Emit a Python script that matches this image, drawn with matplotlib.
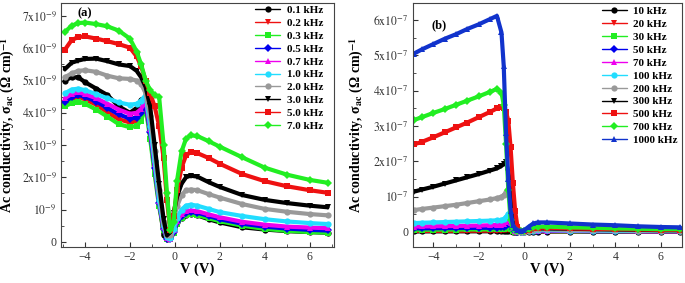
import numpy as np
import matplotlib
matplotlib.use('Agg')
import matplotlib.pyplot as plt
from matplotlib.ticker import MultipleLocator, FuncFormatter

plt.rcParams['font.family'] = ['Liberation Serif', 'DejaVu Serif']
plt.rcParams['mathtext.fontset'] = 'stix'

# ---- panel (a): low frequencies, values in units of 1e-9 (Ohm cm)^-1
va = [-4.9, -4.6, -4.3, -4.0, -3.5, -3.0, -2.5, -2.0, -1.7, -1.5, -1.3, -1.1, -0.9, -0.7,
      -0.5, -0.35, -0.2, -0.05, 0.1, 0.3, 0.5, 0.7, 1.0, 1.5, 2.0, 3.0, 4.0, 5.0, 6.0, 6.8]

labels_a = ['0.1 kHz', '0.2 kHz', '0.3 kHz', '0.5 kHz', '0.7 kHz',
            '1.0 kHz', '2.0 kHz', '3.0 kHz', '5.0 kHz', '7.0 kHz']

a_01 = [5.0, 5.1, 5.1, 4.95, 4.75, 4.55, 4.2, 4.0, 4.15, 4.4, 4.5, 3.5, 2.5, 1.3,
        0.2, 0.1, 0.15, 0.4, 0.6, 0.75, 0.82, 0.85, 0.82, 0.7, 0.6, 0.45, 0.38, 0.33, 0.3, 0.28]
a_02 = [4.3, 4.42, 4.48, 4.42, 4.25, 4.02, 3.8, 3.7, 3.73, 3.88, 4.25, 3.3, 2.2, 1.15,
        0.38, 0.1, 0.08, 0.28, 0.58, 0.78, 0.87, 0.88, 0.86, 0.76, 0.67, 0.52, 0.43, 0.37, 0.33, 0.31]
a_03 = [4.2, 4.3, 4.35, 4.28, 4.1, 3.88, 3.65, 3.55, 3.6, 3.75, 4.2, 3.2, 2.1, 1.1,
        0.35, 0.1, 0.08, 0.27, 0.55, 0.75, 0.84, 0.85, 0.83, 0.73, 0.64, 0.5, 0.4, 0.34, 0.3, 0.28]
a_05 = [4.35, 4.48, 4.55, 4.5, 4.35, 4.15, 3.95, 3.82, 3.85, 3.98, 4.3, 3.4, 2.3, 1.2,
        0.4, 0.1, 0.08, 0.3, 0.6, 0.8, 0.9, 0.92, 0.9, 0.8, 0.7, 0.56, 0.47, 0.41, 0.37, 0.35]
a_07 = [4.45, 4.58, 4.63, 4.58, 4.45, 4.28, 4.1, 3.97, 4.0, 4.12, 4.4, 3.5, 2.4, 1.25,
        0.45, 0.12, 0.1, 0.35, 0.65, 0.85, 0.95, 0.97, 0.95, 0.85, 0.76, 0.62, 0.53, 0.47, 0.44, 0.42]
a_10 = [4.6, 4.72, 4.75, 4.7, 4.58, 4.45, 4.32, 4.25, 4.28, 4.38, 4.55, 3.6, 2.5, 1.3,
        0.5, 0.15, 0.12, 0.4, 0.75, 1.0, 1.12, 1.15, 1.12, 1.02, 0.92, 0.8, 0.7, 0.63, 0.58, 0.55]
a_20 = [5.1, 5.22, 5.3, 5.32, 5.27, 5.15, 5.07, 5.05, 5.0, 4.9, 4.6, 3.9, 2.8, 1.6,
        0.6, 0.2, 0.2, 0.7, 1.1, 1.45, 1.6, 1.62, 1.6, 1.48, 1.37, 1.17, 1.02, 0.93, 0.86, 0.82]
a_30 = [5.35, 5.55, 5.62, 5.67, 5.68, 5.6, 5.5, 5.45, 5.3, 5.1, 4.8, 4.2, 3.0, 1.8,
        0.7, 0.2, 0.3, 0.9, 1.4, 1.8, 2.0, 2.05, 2.02, 1.85, 1.7, 1.45, 1.3, 1.2, 1.12, 1.07]
a_50 = [5.95, 6.25, 6.35, 6.37, 6.3, 6.22, 6.13, 6.02, 5.75, 5.45, 5.0, 4.6, 4.2, 3.6,
        2.6, 1.3, 0.35, 0.8, 1.6, 2.3, 2.68, 2.78, 2.75, 2.6, 2.42, 2.1, 1.88, 1.72, 1.6, 1.52]
a_70 = [6.5, 6.7, 6.78, 6.8, 6.75, 6.68, 6.55, 6.3, 5.9, 5.5, 5.0, 4.7, 4.55, 4.5,
        3.0, 1.5, 0.35, 0.6, 1.9, 2.8, 3.2, 3.3, 3.28, 3.12, 2.95, 2.62, 2.3, 2.08, 1.92, 1.83]

series_a = [a_01, a_02, a_03, a_05, a_07, a_10, a_20, a_30, a_50, a_70]

# ---- panel (b): high frequencies, values in units of 1e-7 (Ohm cm)^-1
vb = [-4.85, -4.5, -4.0, -3.5, -3.0, -2.5, -2.0, -1.5, -1.2, -1.0, -0.9, -0.8, -0.7, -0.6,
      -0.5, -0.4, -0.3, -0.15, 0.0, 0.2, 0.4, 0.6, 1.0, 2.0, 3.0, 4.0, 5.0, 6.0, 6.85]

labels_b = ['10 kHz', '20 kHz', '30 kHz', '50 kHz', '70 kHz', '100 kHz',
            '200 kHz', '300 kHz', '500 kHz', '700 kHz', '1000 kHz']

b_10 = [0.015, 0.015, 0.016, 0.016, 0.017, 0.017, 0.018, 0.019, 0.02, 0.021, 0.022, 0.025, 0.03, 0.02,
        0.01, 0.005, 0.0, 0.0, 0.0, 0.005, 0.01, 0.01, 0.01, 0.01, 0.01, 0.01, 0.01, 0.01, 0.01]
b_20 = [0.03, 0.031, 0.032, 0.033, 0.034, 0.035, 0.036, 0.037, 0.038, 0.04, 0.042, 0.05, 0.06, 0.04,
        0.02, 0.01, 0.0, 0.0, 0.0, 0.01, 0.015, 0.02, 0.02, 0.02, 0.015, 0.015, 0.015, 0.015, 0.015]
b_30 = [0.06, 0.062, 0.064, 0.066, 0.068, 0.07, 0.072, 0.075, 0.078, 0.08, 0.085, 0.1, 0.14, 0.09,
        0.04, 0.01, 0.0, 0.0, 0.0, 0.015, 0.02, 0.025, 0.025, 0.02, 0.02, 0.02, 0.02, 0.02, 0.02]
b_50 = [0.1, 0.102, 0.105, 0.108, 0.11, 0.113, 0.116, 0.12, 0.125, 0.13, 0.14, 0.18, 0.25, 0.17,
        0.07, 0.02, 0.01, 0.0, 0.0, 0.02, 0.03, 0.03, 0.03, 0.03, 0.02, 0.02, 0.02, 0.02, 0.02]
b_70 = [0.15, 0.155, 0.16, 0.165, 0.17, 0.175, 0.18, 0.19, 0.2, 0.21, 0.23, 0.28, 0.36, 0.25,
        0.1, 0.03, 0.01, 0.01, 0.01, 0.02, 0.03, 0.04, 0.04, 0.03, 0.03, 0.03, 0.02, 0.02, 0.02]
b_100 = [0.25, 0.26, 0.27, 0.28, 0.29, 0.3, 0.31, 0.32, 0.33, 0.34, 0.36, 0.42, 0.52, 0.35,
         0.15, 0.05, 0.02, 0.01, 0.01, 0.03, 0.04, 0.05, 0.05, 0.04, 0.04, 0.03, 0.03, 0.03, 0.03]
b_200 = [0.62, 0.65, 0.69, 0.73, 0.77, 0.82, 0.87, 0.92, 0.96, 1.0, 1.04, 1.12, 1.22, 0.8,
         0.35, 0.1, 0.03, 0.01, 0.01, 0.04, 0.06, 0.07, 0.07, 0.06, 0.05, 0.05, 0.04, 0.04, 0.04]
b_300 = [1.14, 1.2, 1.28, 1.37, 1.46, 1.55, 1.64, 1.74, 1.8, 1.87, 1.93, 1.97, 1.7, 1.3,
         0.6, 0.2, 0.05, 0.02, 0.02, 0.06, 0.09, 0.1, 0.1, 0.09, 0.08, 0.07, 0.06, 0.05, 0.05]
b_500 = [2.48, 2.55, 2.68, 2.82, 2.96, 3.1, 3.25, 3.4, 3.5, 3.55, 3.5, 3.4, 3.15, 2.4,
         1.4, 0.6, 0.15, 0.03, 0.03, 0.06, 0.1, 0.12, 0.12, 0.1, 0.09, 0.08, 0.07, 0.06, 0.06]
b_700 = [3.17, 3.25, 3.37, 3.48, 3.6, 3.72, 3.84, 3.97, 4.05, 3.95, 3.6, 2.5, 1.2, 0.35,
         0.1, 0.05, 0.03, 0.02, 0.03, 0.08, 0.13, 0.15, 0.15, 0.13, 0.12, 0.1, 0.09, 0.08, 0.08]
b_1000 = [5.05, 5.17, 5.32, 5.47, 5.6, 5.75, 5.88, 6.03, 6.12, 5.65, 4.7, 2.8, 1.5, 0.6,
          0.2, 0.1, 0.05, 0.03, 0.05, 0.15, 0.24, 0.27, 0.27, 0.24, 0.21, 0.19, 0.16, 0.14, 0.13]

series_b = [b_10, b_20, b_30, b_50, b_70, b_100, b_200, b_300, b_500, b_700, b_1000]

colors = ['#000000', '#ee1111', '#22ee22', '#0000ee', '#ee00ee', '#22ddff',
          '#999999', '#000000', '#ee1111', '#22ee22', '#1133cc']
markers = ['o', 'v', 's', 'D', '^', 'o', 'o', 'v', 's', 'D', '^']


def sci_fmt(exp):
    def f(val, pos):
        n = int(round(val))
        if n == 0:
            return '0'
        if n == 1:
            return r'$10^{%d}$' % exp
        return r'$%d\mathrm{x}10^{%d}$' % (n, exp)
    return f


fig = plt.figure(figsize=(6.85, 2.83), dpi=100)
ax1 = fig.add_axes([0.089, 0.128, 0.398, 0.862])
ax2 = fig.add_axes([0.6025, 0.128, 0.3927, 0.862])

for ax, v, series, labels, exp in [(ax1, va, series_a, labels_a, -9),
                                   (ax2, vb, series_b, labels_b, -7)]:
    for i, (y, lab) in enumerate(zip(series, labels)):
        ax.plot(v, y, color=colors[i], marker=markers[i], ms=4.5, mew=0,
                lw=3.0, label=lab, solid_capstyle='round')
    ax.tick_params(direction='in', which='both', labelsize=8.5, pad=3, colors='#333333')
    ax.tick_params(which='major', length=3.5)
    ax.tick_params(which='minor', length=2)
    ax.xaxis.set_major_locator(MultipleLocator(2))
    ax.xaxis.set_minor_locator(MultipleLocator(1))
    ax.yaxis.set_major_locator(MultipleLocator(1))
    ax.yaxis.set_minor_locator(MultipleLocator(0.5))
    ax.yaxis.set_major_formatter(FuncFormatter(sci_fmt(exp)))
    ax.set_xlabel('V (V)', fontsize=10.5, fontweight='bold', labelpad=0)
    ax.set_ylabel(r'Ac conductivity, σ$_{\mathbf{ac}}$ (Ω cm)$^{\mathbf{-1}}$',
                  fontsize=10, fontweight='bold')
    for sp in ax.spines.values():
        sp.set_linewidth(0.8)
        sp.set_color('#444444')

ax1.yaxis.set_label_coords(-0.16, 0.5)
ax2.yaxis.set_label_coords(-0.175, 0.5)

ax1.set_xlim(-5.07, 7.07)
ax1.set_ylim(-0.155, 7.41)
ax2.set_xlim(-4.9, 6.92)
ax2.set_ylim(-0.42, 6.49)

ax1.text(0.06, 0.945, '(a)', transform=ax1.transAxes, fontsize=9, fontweight='bold')
ax2.text(0.07, 0.895, '(b)', transform=ax2.transAxes, fontsize=9, fontweight='bold')

for ax, anchor in [(ax1, (0.712, 0.99)), (ax2, (0.703, 0.985))]:
    leg = ax.legend(loc='upper left', bbox_to_anchor=anchor, frameon=False,
                    prop={'weight': 'bold', 'size': 8}, handlelength=2.25,
                    handletextpad=0.6, labelspacing=0.28, borderpad=0, borderaxespad=0)
    for h in leg.legend_handles:
        h.set_linewidth(1.0)
        h.set_markersize(4.5)

fig.savefig('out.png', dpi=100)
